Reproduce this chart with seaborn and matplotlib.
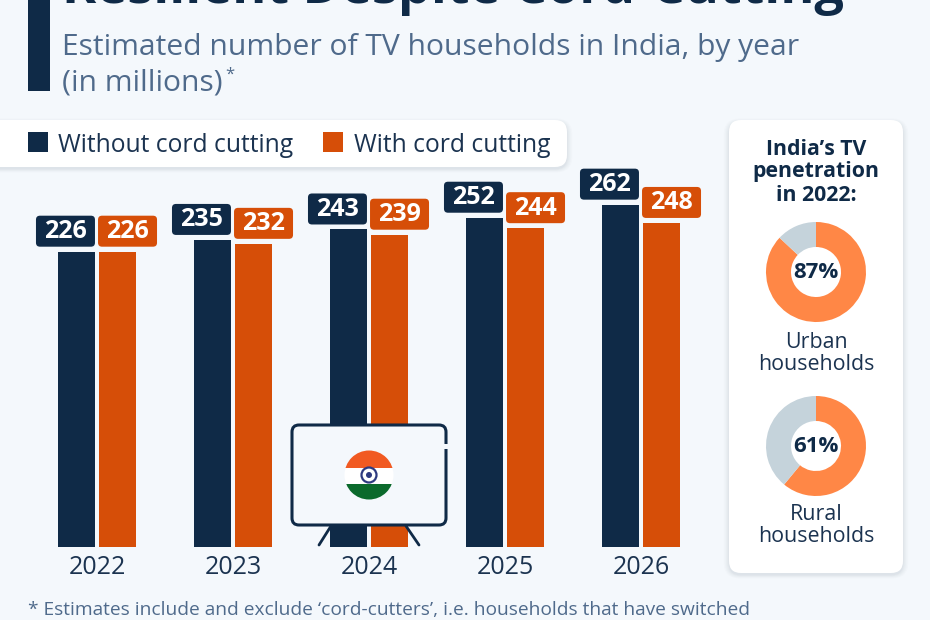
import numpy as np
import pandas as pd
import seaborn as sns
import matplotlib
matplotlib.use("Agg")
import matplotlib.pyplot as plt
from matplotlib.patches import FancyBboxPatch, Rectangle, Circle

years = ["2022", "2023", "2024", "2025", "2026"]
without_cutting = [226, 235, 243, 252, 262]
with_cutting = [226, 232, 239, 244, 248]
series_names = ["Without cord cutting", "With cord cutting"]
urban_share = [87, 13]
rural_share = [61, 39]
title = "Resilient Despite Cord-Cutting"
subtitle = ["Estimated number of TV households in India, by year", "(in millions)"]
card_title = ["India’s TV", "penetration", "in 2022:"]
footnote = "* Estimates include and exclude ‘cord-cutters’, i.e. households that have switched"

W, H = 930, 620
BG = "#F4F8FC"; NAVY = "#0F2A47"; ORANGE = "#D64E08"; SUB = "#4F6A8B"; TXT = "#1B3350"
DONUT = "#FF8746"; GREY = "#C5D3DB"

sns.set_theme(style="white")
plt.rcParams["font.family"] = ["Open Sans", "DejaVu Sans"]

fig = plt.figure(figsize=(W / 100, H / 100), dpi=100, facecolor=BG)

def axes_px(x0, y0, x1, y1, z):
    a = fig.add_axes([x0 / W, 1 - y1 / H, (x1 - x0) / W, (y1 - y0) / H], zorder=z)
    a.patch.set_alpha(0)
    return a

def overlay(z):
    a = axes_px(0, 0, W, H, z)
    a.set_xlim(0, W); a.set_ylim(H, 0); a.axis("off")
    return a

def panel(a, x0, y0, x1, y1, r):
    for grow, alpha in [(9, .012), (7, .015), (5, .018), (3, .022), (1, .03)]:
        a.add_patch(FancyBboxPatch((x0 - grow * .6, y0 - grow * .4 + 2), x1 - x0 + grow * 1.2, y1 - y0 + grow * .8,
                                   boxstyle=f"round,pad=0,rounding_size={r + grow * .5}", fc="#24384f", ec="none", alpha=alpha))
    a.add_patch(FancyBboxPatch((x0, y0), x1 - x0, y1 - y0, boxstyle=f"round,pad=0,rounding_size={r}", fc="white", ec="none"))

back = overlay(0)
over = overlay(5)

# header
back.add_patch(Rectangle((28, -5), 22, 96, fc=NAVY, ec="none"))
back.text(62, 3, title, fontsize=37.5, fontweight="bold", color=NAVY, va="baseline", ha="left")
back.text(62, 47, subtitle[0], fontsize=21.65, color=SUB, va="center", ha="left")
back.text(62, 83, subtitle[1], fontsize=21.65, color=SUB, va="center", ha="left")
back.text(225, 75, "*", fontsize=12, color=SUB, va="center", ha="left")

# legend panel
panel(back, -30, 120, 567, 167, 12)
back.add_patch(Rectangle((28, 132), 20, 20, fc=NAVY, ec="none"))
back.text(58, 145, series_names[0], fontsize=17.7, color=TXT, va="center", ha="left")
back.add_patch(Rectangle((323, 132), 20, 20, fc=ORANGE, ec="none"))
back.text(354, 145, series_names[1], fontsize=17.7, color=TXT, va="center", ha="left")

# bars
df = pd.DataFrame({"year": years * 2,
                   "value": without_cutting + with_cutting,
                   "series": [series_names[0]] * 5 + [series_names[1]] * 5})
ax = axes_px(29, 155, 709, 547, 1)
sns.barplot(data=df, x="year", y="value", hue="series", order=years, hue_order=series_names,
            palette=[NAVY, ORANGE], width=0.596, gap=0.1, legend=False, saturation=1, linewidth=0, ax=ax)
ax.set_xlim(-0.5, 4.5); ax.set_ylim(0, 300)
ax.set_xlabel(""); ax.set_ylabel(""); ax.set_yticks([])
ax.tick_params(axis="x", length=0, labelsize=18, labelcolor=TXT, pad=6)
sns.despine(ax=ax, left=True, bottom=True)

to_px = ax.transData + over.transData.inverted()
for i, bar in enumerate(ax.patches[:10]):
    if bar.get_height() == 0:
        continue
    left, top = to_px.transform((bar.get_x(), bar.get_height()))
    right, _ = to_px.transform((bar.get_x() + bar.get_width(), 0))
    dark = i < 5
    x0 = right - 59 if dark else left - 1
    y1 = top - 5
    over.add_patch(FancyBboxPatch((x0, y1 - 31), 59, 31, boxstyle="round,pad=0,rounding_size=4",
                                  fc=NAVY if dark else ORANGE, ec="none"))
    over.text(x0 + 29.5, y1 - 15, f"{bar.get_height():.0f}", fontsize=18, fontweight="bold",
              color="white", ha="center", va="center")

# television
over.add_patch(FancyBboxPatch((292, 425), 154, 100, boxstyle="round,pad=0,rounding_size=7",
                              fc=BG, ec=NAVY, lw=2.2))
over.add_patch(Rectangle((444, 444), 4, 5, fc=BG, ec="none"))
over.plot([331, 319], [526, 545], color=NAVY, lw=2, solid_capstyle="round")
over.plot([406, 419], [526, 545], color=NAVY, lw=2, solid_capstyle="round")
clip = Circle((369, 475), 24.5, transform=over.transData)
for y, h, c in [(450, 18, "#F15A22"), (468, 15.5, "white"), (483.5, 17, "#0B6A2C")]:
    r = Rectangle((344, y), 50, h, fc=c, ec="none")
    over.add_patch(r); r.set_clip_path(clip)
over.add_patch(Circle((369, 475), 7.5, fc="white", ec="#2E3A80", lw=1.6))
over.add_patch(Circle((369, 475), 3, fc="#2E3A80", ec="none"))

# card
panel(back, 729, 120, 903, 573, 12)
for y, s in zip([149.5, 172, 195.5], card_title):
    over.text(816, y, s, fontsize=15.3, fontweight="bold", color=NAVY, ha="center", va="center")

def donut(cx, cy, share, name, off1, off2):
    a = axes_px(cx - 50, cy - 50, cx + 50, cy + 50, 3)
    a.pie(share, colors=[DONUT, GREY], startangle=90, counterclock=False, radius=1,
          wedgeprops=dict(width=0.5, linewidth=0))
    a.set_xlim(-1, 1); a.set_ylim(-1, 1)
    over.text(cx, cy, f"{share[0]}%", fontsize=16, fontweight="bold", color=NAVY, ha="center", va="center")
    over.text(cx, cy + off1, name, fontsize=15.4, color=TXT, ha="center", va="center")
    over.text(cx, cy + off2, "households", fontsize=15.4, color=TXT, ha="center", va="center")

donut(816, 272, urban_share, "Urban", 70, 93)
donut(816, 446, rural_share, "Rural", 68, 91)

back.text(28, 610, footnote, fontsize=13.77, color=SUB, va="center", ha="left")

fig.savefig("out.png", dpi=100, facecolor=BG)
